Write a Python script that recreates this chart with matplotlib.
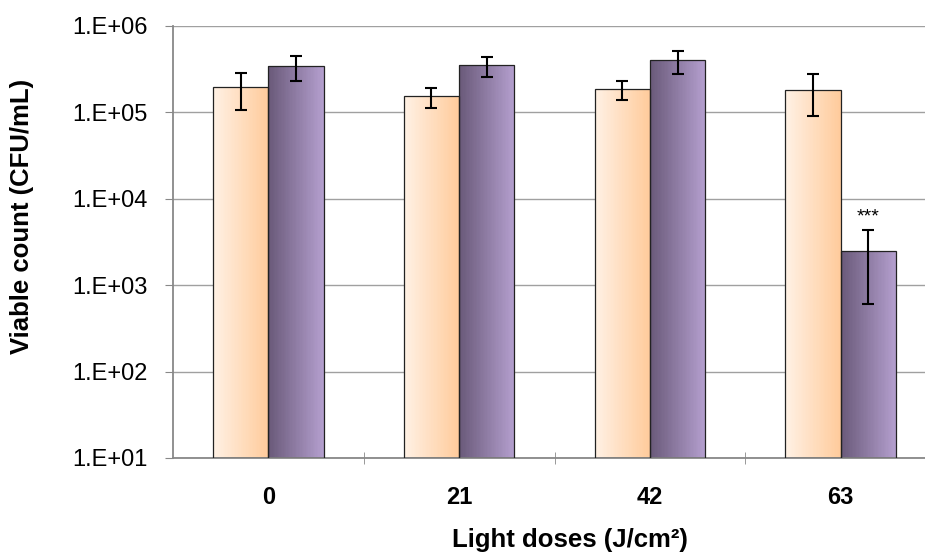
import matplotlib
matplotlib.use("Agg")
import matplotlib.pyplot as plt
import matplotlib.colors as mcolors
import numpy as np

plt.rcParams['font.family'] = ['Liberation Sans', 'DejaVu Sans']

# data
doses = ["0", "21", "42", "63"]
dark_mean = [1.95e5, 1.53e5, 1.85e5, 1.84e5]
dark_err = [0.88e5, 0.40e5, 0.45e5, 0.94e5]
light_mean = [3.42e5, 3.50e5, 4.00e5, 2.50e3]
light_err = [1.10e5, 0.92e5, 1.20e5, 1.90e3]
stars = ["", "", "", "***"]

orange_cols = ["#fff1e4", "#ffcb9c"]
purple_cols = ["#6a5a7a", "#b39ecd"]
bar_w = 0.29
n_strips = 40

fig = plt.figure(figsize=(9.25, 5.53), dpi=100)
ax = fig.add_axes([0.187, 0.1718, 0.825, 0.7812])
ax.set_yscale('log')
ax.set_ylim(10, 1e6)
ax.set_xlim(-0.5, 3.5)

def gradient_bar(x_center, top, cols):
   cmap = mcolors.LinearSegmentedColormap.from_list("g", cols)
   left = x_center - bar_w / 2
   sw = bar_w / n_strips
   for k in range(n_strips):
      ax.bar(left + k * sw, top - 10, bottom=10, width=sw * 1.05, align='edge',
             color=cmap(k / (n_strips - 1)), linewidth=0, zorder=2)
   ax.bar(x_center, top - 10, bottom=10, width=bar_w, facecolor='none',
          edgecolor='#222222', linewidth=0.9, zorder=3)

x = np.arange(len(doses))
for i in range(len(doses)):
   gradient_bar(x[i] - bar_w / 2, dark_mean[i], orange_cols)
   gradient_bar(x[i] + bar_w / 2, light_mean[i], purple_cols)

ax.errorbar(x - bar_w / 2, dark_mean, yerr=dark_err, fmt='none', ecolor='black',
            elinewidth=1.5, capsize=4.5, capthick=1.5, zorder=4)
ax.errorbar(x + bar_w / 2, light_mean, yerr=light_err, fmt='none', ecolor='black',
            elinewidth=1.5, capsize=4.5, capthick=1.5, zorder=4)

for i in range(len(doses)):
   if stars[i]:
      ax.text(x[i] + bar_w / 2, (light_mean[i] + light_err[i]) * 1.12, stars[i],
              ha='center', va='bottom', fontsize=14)

ax.yaxis.grid(True, which='major', color='#a0a0a0', linewidth=1)
ax.set_axisbelow(True)
ax.set_yticks([1e1, 1e2, 1e3, 1e4, 1e5, 1e6])
ax.set_yticklabels(["1.E+01", "1.E+02", "1.E+03", "1.E+04", "1.E+05", "1.E+06"])
ax.yaxis.set_minor_locator(matplotlib.ticker.NullLocator())
ax.tick_params(axis='y', which='major', length=6, color='#888888', labelsize=17, pad=12)

ax.set_xticks(x)
ax.set_xticklabels(doses, fontweight='bold', fontsize=17)
ax.set_xticks([0.5, 1.5, 2.5], minor=True)
ax.tick_params(axis='x', which='major', length=0, pad=20)
ax.tick_params(axis='x', which='minor', length=8, direction='inout', color='#888888')

for s in ['top', 'right']:
   ax.spines[s].set_visible(False)
ax.spines['left'].set_color('#888888')
ax.spines['bottom'].set_color('#888888')
ax.spines['left'].set_linewidth(1.3)
ax.spines['bottom'].set_linewidth(1.3)

fig.text(0.0235, 0.609, "Viable count (CFU/mL)", rotation=90, ha='center', va='center',
         fontweight='bold', fontsize=18.5)
fig.text(0.616, 0.0235, "Light doses (J/cm²)", ha='center', va='center',
         fontweight='bold', fontsize=18.5)

fig.savefig("out.png", dpi=100)
